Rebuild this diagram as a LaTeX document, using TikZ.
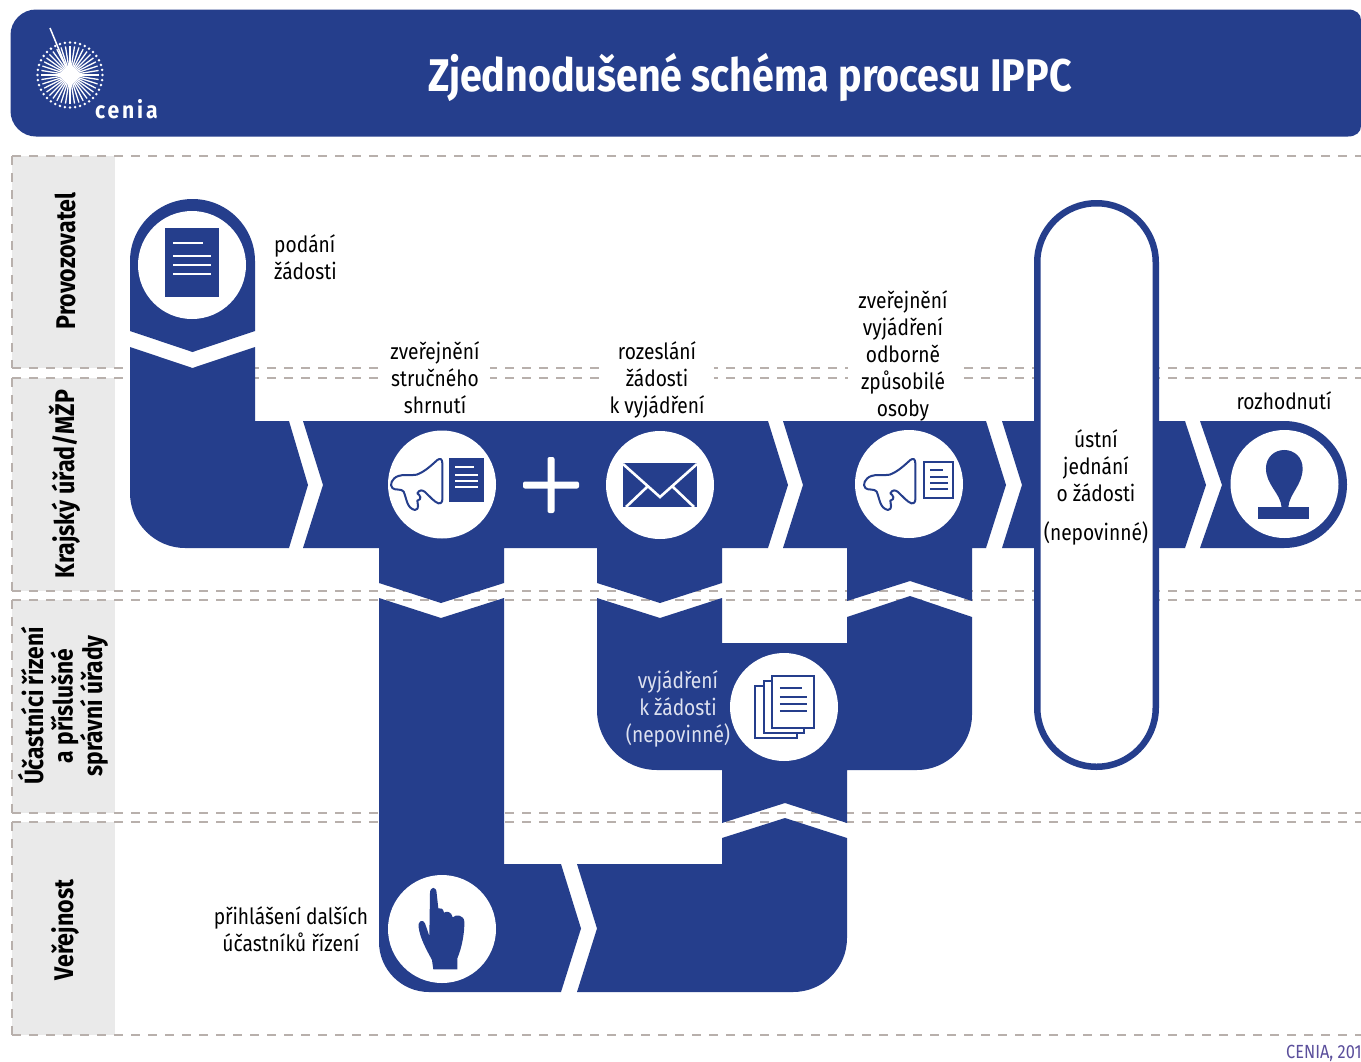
\documentclass[tikz,border=0pt]{standalone}
\usepackage{fontspec}
\setmainfont[FakeStretch=0.86]{Fira Sans}
\newfontfamily\spaced[LetterSpace=12,FakeStretch=0.9]{Fira Sans}
\definecolor{ippcblue}{HTML}{253E8C}
\definecolor{lanegrey}{HTML}{EAEAEA}
\definecolor{dashgrey}{HTML}{B8B0AC}
\definecolor{creditc}{HTML}{5B4F9C}
\definecolor{softwhite}{HTML}{DDE1F0}
\newcommand{\bodyfont}{\fontsize{22.3}{27}\selectfont}
\tikzset{
  bluepart/.style={fill=ippcblue,draw=none},
  iconline/.style={draw=ippcblue,line width=2,fill=white},
  disc/.style={fill=white,draw=none},
  lanedash/.style={draw=dashgrey,line width=1.3,dash pattern=on 9 off 8},
  lanestrip/.style={fill=lanegrey,draw=none},
  lanelabel/.style={rotate=90,font=\fontsize{27}{29.5}\selectfont\bfseries,align=center,text=black},
  steplabel/.style={font=\bodyfont,align=center,text=black,fill=white,inner ysep=2,inner xsep=10},
  plainlabel/.style={font=\bodyfont,align=center,text=black,inner sep=0},
}
\newcommand{\megahorn}[2]{%
  \begin{scope}[shift={(#1,#2)},x=0.3333pt,y=-0.3333pt]
    \draw[iconline,line join=round]
      (232,180) .. controls (215,195) and (195,215) .. (170,224)
      .. controls (150,228) and (130,222) .. (115,228)
      .. controls (95,235) and (88,255) .. (97,264)
      .. controls (105,272) and (125,265) .. (131,275)
      .. controls (140,295) and (140,325) .. (165,330)
      .. controls (180,328) and (172,310) .. (172,302)
      .. controls (188,298) and (180,285) .. (172,280)
      .. controls (178,268) and (188,270) .. (195,276)
      .. controls (210,290) and (222,305) .. (235,310)
      .. controls (248,312) and (248,300) .. (247,285)
      -- (247,190) .. controls (247,176) and (240,174) .. (232,180) -- cycle;
  \end{scope}}
\begin{document}
\begin{tikzpicture}[x=1pt,y=-1pt]
\useasboundingbox (0,0) rectangle (1361,1061);
\fill[white] (0,0) rectangle (1361,1061);

% header
\fill[ippcblue] (36,9.5) -- (1348,9.5) .. controls (1356,9.5) and (1361,14) .. (1361,20)
  -- (1361,126) .. controls (1361,132) and (1356,136.5) .. (1348,136.5) -- (36,136.5)
  .. controls (22,136.5) and (10.5,125) .. (10.5,111) -- (10.5,35)
  .. controls (10.5,21) and (22,9.5) .. (36,9.5) -- cycle;
\node (title) at (750,77) {\fontsize{45.8}{50}\selectfont\bfseries\textcolor{white}{Zjednodušené schéma procesu IPPC}};
\foreach \a in {0,9,...,351}{
  \draw[white,line width=1.3] ([shift={(\a:6)}]70,75) -- ([shift={(\a:29)}]70,75);
  \fill[white] ([shift={(\a:32.5)}]70,75) circle[radius=1.4];
}
\fill[white] (70,75) circle[radius=8];
\draw[white,line width=1.5] (50,28) -- (69,74);
\node[anchor=west,inner sep=0] (cenialogo) at (95,109.5) {\spaced\fontsize{23.5}{26}\selectfont\bfseries\textcolor{white}{cenia}};

% lanes
\fill[lanestrip] (12,156) rectangle (115,368);
\fill[lanestrip] (12,378) rectangle (115,591);
\fill[lanestrip] (12,600) rectangle (115,813);
\fill[lanestrip] (12,822) rectangle (115,1035);
\foreach \y in {156,368,378,591,600,813,822,1035}{
  \draw[lanedash] (12,\y) -- (1361,\y);
}
\draw[lanedash] (12,156) -- (12,368);
\draw[lanedash] (12,378) -- (12,591);
\draw[lanedash] (12,600) -- (12,813);
\draw[lanedash] (12,822) -- (12,1035);

% step labels that interrupt the lane lines (under the blue band)
\node[steplabel] (shrnuti) at (435,378) {zveřejnění\\stručného\\shrnutí};
\node[steplabel] (rozeslani) at (657,380) {rozeslání\\žádosti\\k vyjádření};
\node[steplabel] (zverej) at (903,356) {zveřejnění\\vyjádření\\odborně\\způsobilé\\osoby};

% blue flow parts
\fill[bluepart] (130,261) .. controls (130,227) and (158,199) .. (192.5,199)
  .. controls (227,199) and (255,227) .. (255,261) -- (255,331) -- (192.5,352) -- (130,331) -- cycle;
\fill[bluepart] (130,347) -- (192.5,368) -- (255,347) -- (255,421) -- (289,421) -- (308,485) -- (289,548)
  -- (185,548) .. controls (155,548) and (130,523) .. (130,493) -- cycle;
\fill[bluepart] (303,421) -- (768,421) -- (788,485) -- (768,548) -- (722,548) -- (722,583) -- (660,603)
  -- (597,583) -- (597,548) -- (504,548) -- (504,583) -- (441,603) -- (379,583) -- (379,548) -- (303,548)
  -- (323,485) -- cycle;
\fill[bluepart] (379,598) -- (441,618) -- (504,598) -- (504,864) -- (561,864) -- (581,928.5) -- (561,992)
  -- (429,992) .. controls (401.5,992) and (379,969.5) .. (379,942) -- cycle;
\fill[bluepart] (577,864) -- (722,864) -- (722,838) -- (785,818) -- (847,838) -- (847,938)
  .. controls (847,968) and (823,992) .. (793,992) -- (577,992) -- (597,928.5) -- cycle;
\fill[bluepart] (597,598) -- (660,618) -- (722,598) -- (722,643) -- (847,643) -- (847,617) -- (910,596)
  -- (972,617) -- (972,715) .. controls (972,745) and (947,770) .. (917,770) -- (847,770) -- (847,823)
  -- (785,803) -- (722,823) -- (722,770) -- (657,770) .. controls (624,770) and (597,743) .. (597,710) -- cycle;
\fill[bluepart] (783,421) -- (986,421) -- (1006,485) -- (986,548) -- (972,548) -- (972,601) -- (910,581)
  -- (847,601) -- (847,548) -- (783,548) -- (803,485) -- cycle;
\fill[bluepart] (1002,421) -- (1041,421) -- (1041,548) -- (1002,548) -- (1022,485) -- cycle;
\fill[bluepart] (1150,421) -- (1185,421) -- (1206,485) -- (1185,548) -- (1150,548) -- cycle;
\fill[bluepart] (1200,421) -- (1284,421) .. controls (1319,421) and (1347,449.5) .. (1347,484.5)
  .. controls (1347,519.5) and (1319,548) .. (1284,548) -- (1200,548) -- (1222,485) -- cycle;

% oral hearing pill
\draw[ippcblue,fill=white,line width=6.5,rounded corners=59] (1037.25,203.25) rectangle (1155.75,766.75);

% discs
\fill[disc] (192,265) circle[radius=54];
\fill[disc] (442,484.5) circle[radius=54];
\fill[disc] (660,485) circle[radius=54];
\fill[disc] (909,484) circle[radius=54];
\fill[disc] (784,707) circle[radius=54];
\fill[disc] (442,929) circle[radius=54];
\fill[disc] (1284.5,484) circle[radius=54];

% application document
\fill[ippcblue] (165,228) rectangle (219,297);
\draw[white,line width=2] (173,243) -- (203,243) (173,256) -- (211,256) (173,265) -- (211,265) (173,274) -- (211,274);

% megaphone + filled doc
\megahorn{360}{400}
\fill[ippcblue] (449,458) rectangle (484,502);
\draw[white,line width=2] (455,467) -- (474,467) (455,475) -- (478,475) (455,481) -- (478,481) (455,487) -- (478,487);

% plus
\fill[white,rounded corners=2] (523,481.5) rectangle (579,488.5);
\fill[white,rounded corners=2] (547.5,457) rectangle (554.5,513);

% envelope
\fill[ippcblue] (623,463) rectangle (697,507);
\draw[white,line width=2.6] (623,464) -- (660,497) -- (697,464) (626,507) -- (647,487) (694,507) -- (673,487);

% megaphone + outlined doc
\megahorn{833}{400}
\draw[iconline] (924,462) rectangle (953,498);
\draw[ippcblue,line width=2] (930,470) -- (943,470) (930,477) -- (948,477) (930,483) -- (948,483) (930,489) -- (948,489);

% stack of documents
\begin{scope}[shift={(700,560)},x=0.3333pt,y=-0.3333pt]
  \draw[iconline] (166,378) rectangle (290,535);
  \draw[iconline] (191,362) rectangle (313,518);
  \draw[iconline] (217,348) rectangle (342,503);
  \draw[ippcblue,line width=2] (240,385) -- (305,385) (240,411) -- (320,411) (240,432) -- (320,432) (240,452) -- (320,452);
\end{scope}

% hand
\begin{scope}[shift={(370,840)},x=0.3333pt,y=-0.3333pt]
  \fill[ippcblue] (180,160) .. controls (180,138) and (200,138) .. (200,160)
    -- (205,205) .. controls (212,203) and (220,205) .. (222,218)
    .. controls (230,212) and (245,215) .. (248,232)
    .. controls (258,222) and (282,225) .. (283,245)
    .. controls (284,280) and (275,325) .. (262,355) -- (262,388) -- (190,388) -- (186,360)
    .. controls (170,330) and (150,295) .. (146,262)
    .. controls (143,240) and (160,238) .. (165,250) -- (178,288) -- cycle;
\end{scope}

% stamp
\begin{scope}[shift={(960,350)},x=0.3333pt,y=-0.3333pt]
  \fill[ippcblue] (893,472) rectangle (1048,508);
  \fill[ippcblue] (965,472) .. controls (962,430) and (918,405) .. (918,355)
    .. controls (918,322) and (943,300) .. (973,300)
    .. controls (1003,300) and (1028,322) .. (1028,355)
    .. controls (1028,405) and (988,430) .. (985,472) -- cycle;
\end{scope}

% texts
\node[lanelabel] (provoz) at (65,261) {Provozovatel};
\node[lanelabel] (kraj) at (65,484) {Krajský úřad/MŽP};
\node[lanelabel,font=\fontsize{26.5}{29.5}\selectfont\bfseries] (ucast) at (63,706) {Účastníci řízení\\a příslušné\\správní úřady};
\node[lanelabel] (verej) at (66,930) {Veřejnost};

\node[plainlabel,align=left,anchor=west] (podani) at (274,257) {podání\\žádosti};
\node[plainlabel] (ustni) at (1096,466) {ústní\\jednání\\o žádosti};
\node[plainlabel] (nepov) at (1096,533) {(nepovinné)};
\node[plainlabel] (rozhod) at (1284,401) {rozhodnutí};
\node[plainlabel,text=softwhite] (vyjadreni) at (678,709) {vyjádření\\k žádosti\\(nepovinné)};
\node[plainlabel] (prihlaseni) at (291,929) {přihlášení dalších\\účastníků řízení};
\node[anchor=west,inner sep=0] (credit) at (1286,1053) {\fontsize{19}{22}\selectfont\textcolor{creditc}{CENIA, 201}};
\end{tikzpicture}
\end{document}
